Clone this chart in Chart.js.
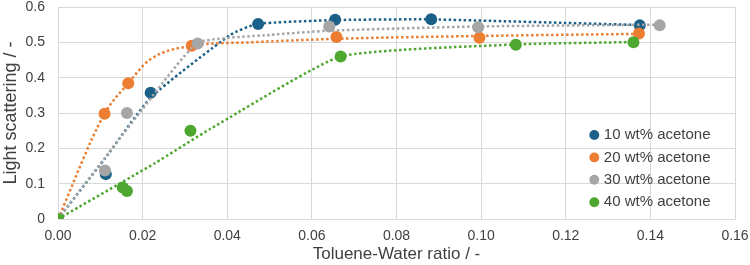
<!DOCTYPE html>
<html>
<head>
<meta charset="utf-8">
<script src="https://cdn.jsdelivr.net/npm/chart.js@4.4.1/dist/chart.umd.min.js"></script>
<style>
  body { margin: 0; background: #fff; }
</style>
</head>
<body>
<canvas id="myChart" width="750" height="265"></canvas>
<script>
const seriesNames = ['10 wt% acetone', '20 wt% acetone', '30 wt% acetone', '40 wt% acetone'];
const seriesColors = ['#1b6088', '#ed7d31', '#a6a6a6', '#4ea72e'];
// orange curve bends smoothly, the others are nearly straight
const curveModes = ['default', 'monotone', 'default', 'default'];

// measured points (toluene-water ratio, light scattering)
const ratio10 = [0, 0.0113, 0.0219, 0.0473, 0.0655, 0.0882, 0.1375];
const light10 = [0, 0.127, 0.357, 0.552, 0.564, 0.565, 0.548];
const ratio20 = [0, 0.011, 0.0166, 0.0316, 0.0658, 0.0996, 0.1373];
const light20 = [0, 0.298, 0.384, 0.490, 0.515, 0.513, 0.525];
const ratio30 = [0, 0.0111, 0.0163, 0.033, 0.0641, 0.0993, 0.1422];
const light30 = [0, 0.137, 0.300, 0.497, 0.545, 0.543, 0.548];
const ratio40 = [0, 0.0153, 0.0163, 0.0313, 0.0668, 0.1082, 0.136];
const light40 = [0, 0.089, 0.079, 0.250, 0.460, 0.493, 0.500];

// dotted trend curves
const fitRatio10 = [0, 0.011, 0.022, 0.0407, 0.047, 0.0655, 0.088, 0.1375];
const fitLight10 = [0, 0.17, 0.345, 0.521, 0.552, 0.563, 0.565, 0.549];
const fitRatio20 = [0, 0.011, 0.0166, 0.0216, 0.0316, 0.0454, 0.0658, 0.0996, 0.1373];
const fitLight20 = [0, 0.298, 0.384, 0.45, 0.49, 0.50, 0.51, 0.518, 0.524];
const fitRatio30 = [0, 0.0194, 0.033, 0.0501, 0.064, 0.0993, 0.1422];
const fitLight30 = [0, 0.302, 0.498, 0.521, 0.533, 0.545, 0.55];
const fitRatio40 = [0, 0.0229, 0.036, 0.0668, 0.1082, 0.136];
const fitLight40 = [0, 0.158, 0.255, 0.46, 0.494, 0.501];

const points = [[ratio10, light10], [ratio20, light20], [ratio30, light30], [ratio40, light40]];
const fits = [[fitRatio10, fitLight10], [fitRatio20, fitLight20], [fitRatio30, fitLight30], [fitRatio40, fitLight40]];

const toXY = (xs, ys) => xs.map((x, i) => ({ x: x, y: ys[i] }));

const textColor = '#404040';
const fontFamily = "'Liberation Sans', Arial, sans-serif";

const datasets = [];
seriesNames.forEach((name, i) => {
    datasets.push({
        label: name,
        data: toXY(points[i][0], points[i][1]),
        backgroundColor: seriesColors[i],
        borderColor: seriesColors[i],
        borderWidth: 0,
        pointRadius: 6,
        pointHoverRadius: 6,
        showLine: false,
        order: 7 - 2 * i
    });
});
seriesNames.forEach((name, i) => {
    datasets.push({
        label: name + ' fit',
        isFit: true,
        data: toXY(fits[i][0], fits[i][1]),
        borderColor: seriesColors[i],
        backgroundColor: seriesColors[i],
        borderWidth: 2.5,
        borderDash: [2.5, 2.5],
        pointRadius: 0,
        showLine: true,
        tension: 0.15,
        cubicInterpolationMode: curveModes[i],
        order: 8 - 2 * i
    });
});

// move the legend into the lower right of the plot area
const legendInside = {
    id: 'legendInside',
    afterLayout(chart) {
        const lg = chart.legend;
        const pad = lg.options.labels.padding;
        lg.left = 592.3 - pad;
        lg.top = 127.5 - pad;
        lg.right = lg.left + lg.width;
        lg.bottom = lg.top + lg.height;
    }
};

const ctx = document.getElementById('myChart').getContext('2d');
const myChart = new Chart(ctx, {
    type: 'scatter',
    data: { datasets: datasets },
    options: {
        responsive: false,
        animation: false,
        layout: { padding: 0, autoPadding: false },
        plugins: {
            tooltip: { enabled: false },
            legend: {
                position: 'chartArea',
                fullSize: false,
                align: 'start',
                labels: {
                    usePointStyle: true,
                    pointStyle: 'circle',
                    boxWidth: 4,
                    boxHeight: 7,
                    padding: 7.4,
                    color: textColor,
                    font: { family: fontFamily, size: 15 },
                    filter: (item, data) => !data.datasets[item.datasetIndex].isFit,
                    sort: (a, b) => a.datasetIndex - b.datasetIndex
                }
            }
        },
        scales: {
            x: {
                type: 'linear',
                min: 0,
                max: 0.16,
                grid: { color: '#d9d9d9', drawTicks: false },
                border: { color: '#d9d9d9' },
                ticks: {
                    stepSize: 0.02,
                    padding: 9,
                    color: textColor,
                    font: { family: fontFamily, size: 14 },
                    callback: v => v.toFixed(2)
                },
                title: {
                    display: true,
                    text: 'Toluene-Water ratio / -',
                    color: textColor,
                    font: { family: fontFamily, size: 17 },
                    padding: { top: 0, bottom: 0 }
                },
                afterFit: scale => {
                    scale.height = 46;
                    scale.paddingRight = 15;
                }
            },
            y: {
                min: 0,
                max: 0.6,
                grid: { color: '#d9d9d9', drawTicks: false },
                border: { color: '#d9d9d9' },
                ticks: {
                    stepSize: 0.1,
                    padding: 13,
                    color: textColor,
                    font: { family: fontFamily, size: 14 },
                    callback: v => v === 0 ? '0' : v.toFixed(1)
                },
                title: {
                    display: true,
                    text: 'Light scattering / -',
                    color: textColor,
                    font: { family: fontFamily, size: 18 },
                    padding: { top: 0, bottom: 4 }
                },
                afterFit: scale => {
                    scale.width = 58;
                    scale.paddingTop = 7;
                    scale.paddingBottom = 0;
                }
            }
        }
    },
    plugins: [legendInside]
});
</script>
</body>
</html>
